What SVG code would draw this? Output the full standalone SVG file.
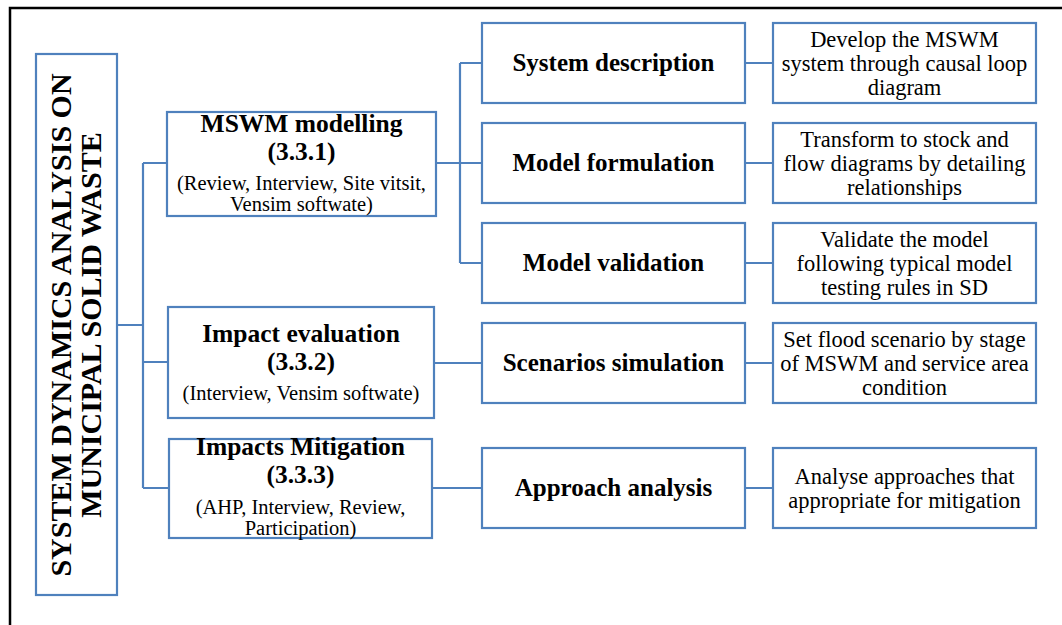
<svg xmlns="http://www.w3.org/2000/svg" width="1062" height="625" viewBox="0 0 1062 625">
<style>
.box{fill:#fff;stroke:#4f81bd;stroke-width:2.2}
.con{fill:none;stroke:#4f81bd;stroke-width:2.2}
.frame{fill:none;stroke:#000;stroke-width:2.5}
text{fill:#000;text-anchor:middle}
.t1{font-size:30px;font-weight:bold}
.t2{font-size:25.5px;font-weight:bold}
.t3{font-size:20.5px}
.t4{font-size:25px;font-weight:bold}
.t5{font-size:22.5px}
</style>
<rect width="1062" height="625" fill="#fff"/>
<path class="frame" d="M10,625 V8 H1062"/>
<g id="connectors">
<path class="con" d="M117,325 H143 M143,163 V488 M143,163 H167 M143,362 H168 M143,488 H169"/>
<path class="con" d="M436,163 H460 M460,63 V263 M460,63 H482 M460,163 H482 M460,263 H482"/>
<path class="con" d="M434,363 H482 M432,488 H482"/>
<path class="con" d="M745,63 H773 M745,163 H773 M745,263 H773 M745,363 H773 M745,488 H773"/>
</g>
<g font-family="'Liberation Serif', 'DejaVu Serif', 'Times New Roman', serif">
<g id="root">
<rect class="box" x="36" y="54" width="81" height="541"/>
<text class="t1" transform="translate(71,325) rotate(-90)">SYSTEM DYNAMICS ANALYSIS ON</text>
<text class="t1" transform="translate(101,325) rotate(-90)">MUNICIPAL SOLID WASTE</text>
</g>
<g id="mswm-modelling">
<rect class="box" x="167" y="112" width="269" height="104"/>
<text class="t2" x="301.5" y="132">MSWM modelling</text>
<text class="t2" x="301.5" y="160">(3.3.1)</text>
<text class="t3" x="301.5" y="190">(Review, Interview, Site vitsit,</text>
<text class="t3" x="301.5" y="210.5">Vensim softwate)</text>
</g>
<g id="impact-evaluation">
<rect class="box" x="168" y="307" width="266" height="111"/>
<text class="t2" x="301" y="342">Impact evaluation</text>
<text class="t2" x="301" y="370">(3.3.2)</text>
<text class="t3" x="301" y="400">(Interview, Vensim softwate)</text>
</g>
<g id="impacts-mitigation">
<rect class="box" x="169" y="439" width="263" height="99"/>
<text class="t2" x="300.5" y="455">Impacts Mitigation</text>
<text class="t2" x="300.5" y="483">(3.3.3)</text>
<text class="t3" x="300.5" y="514">(AHP, Interview, Review,</text>
<text class="t3" x="300.5" y="535">Participation)</text>
</g>
<g id="system-description">
<rect class="box" x="482" y="23" width="263" height="80"/>
<text class="t4" x="613.5" y="71">System description</text>
</g>
<g id="model-formulation">
<rect class="box" x="482" y="123" width="263" height="80"/>
<text class="t4" x="613.5" y="171">Model formulation</text>
</g>
<g id="model-validation">
<rect class="box" x="482" y="223" width="263" height="80"/>
<text class="t4" x="613.5" y="271">Model validation</text>
</g>
<g id="scenarios-simulation">
<rect class="box" x="482" y="323" width="263" height="80"/>
<text class="t4" x="613.5" y="371">Scenarios simulation</text>
</g>
<g id="approach-analysis">
<rect class="box" x="482" y="448" width="263" height="80"/>
<text class="t4" x="613.5" y="496">Approach analysis</text>
</g>
<g id="develop">
<rect class="box" x="773" y="23" width="263" height="80"/>
<text class="t5" x="904.5" y="47">Develop the MSWM</text>
<text class="t5" x="904.5" y="71">system through causal loop</text>
<text class="t5" x="904.5" y="95">diagram</text>
</g>
<g id="transform">
<rect class="box" x="773" y="123" width="263" height="80"/>
<text class="t5" x="904.5" y="147">Transform to stock and</text>
<text class="t5" x="904.5" y="171">flow diagrams by detailing</text>
<text class="t5" x="904.5" y="195">relationships</text>
</g>
<g id="validate">
<rect class="box" x="773" y="223" width="263" height="80"/>
<text class="t5" x="904.5" y="247">Validate the model</text>
<text class="t5" x="904.5" y="271">following typical model</text>
<text class="t5" x="904.5" y="295">testing rules in SD</text>
</g>
<g id="set-flood">
<rect class="box" x="773" y="323" width="263" height="80"/>
<text class="t5" x="904.5" y="347">Set flood scenario by stage</text>
<text class="t5" x="904.5" y="371">of MSWM and service area</text>
<text class="t5" x="904.5" y="395">condition</text>
</g>
<g id="analyse">
<rect class="box" x="773" y="448" width="263" height="80"/>
<text class="t5" x="904.5" y="483.5">Analyse approaches that</text>
<text class="t5" x="904.5" y="507.5">appropriate for mitigation</text>
</g>
</g>
</svg>
